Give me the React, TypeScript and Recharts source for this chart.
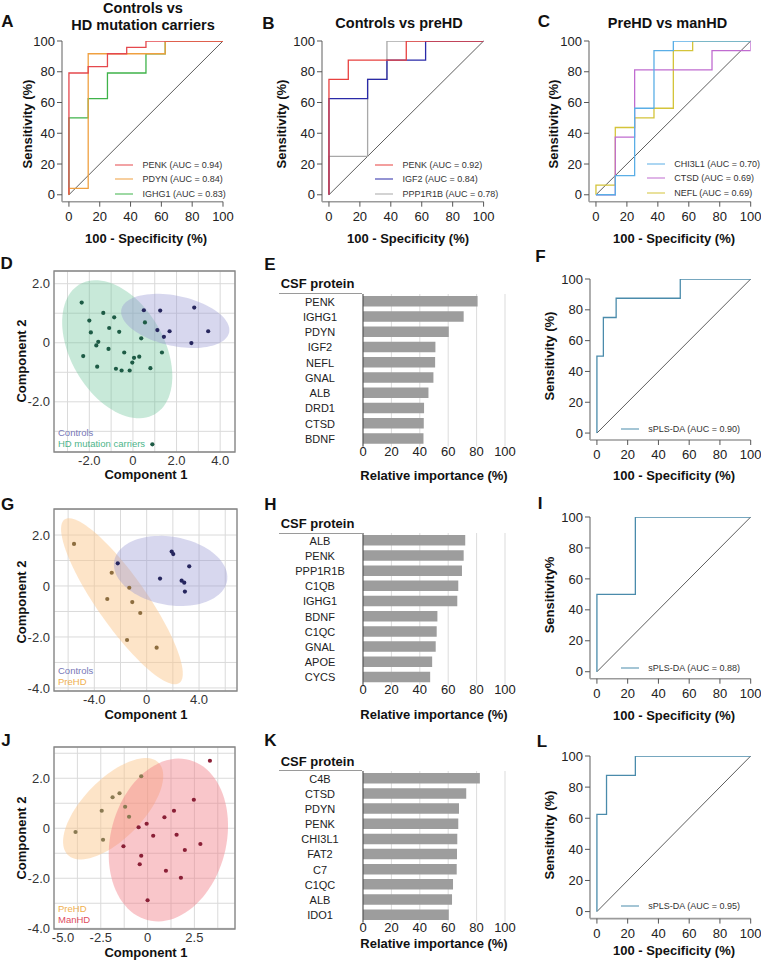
import React from 'react';
import {
  LineChart, Line, XAxis, YAxis, ReferenceLine, ScatterChart, Scatter,
  CartesianGrid, ReferenceArea, BarChart, Bar,
} from 'recharts';

type XY = [number, number];

const FONT = '"Liberation Sans", Arial, Helvetica, sans-serif';
const pctTicks = [0, 20, 40, 60, 80, 100];

// ROC step curves, vertices: [100 - specificity, sensitivity]
const aPENK: XY[] = [[0, 0], [0, 79.2], [12.5, 79.2], [12.5, 83.3], [25, 83.3], [25, 91.7], [37.5, 91.7], [37.5, 95.8], [50, 95.8], [50, 100], [100, 100]];
const aPDYN: XY[] = [[0, 0], [0, 4.2], [12.5, 4.2], [12.5, 91.7], [62.5, 91.7], [62.5, 100], [100, 100]];
const aIGHG1: XY[] = [[0, 0], [0, 50], [12.5, 50], [12.5, 62.5], [25, 62.5], [25, 79.2], [50, 79.2], [50, 91.7], [62.5, 91.7], [62.5, 100], [100, 100]];

const bPENK: XY[] = [[0, 0], [0, 75], [12.5, 75], [12.5, 87.5], [50, 87.5], [50, 100], [100, 100]];
const bIGF2: XY[] = [[0, 0], [0, 62.5], [25, 62.5], [25, 75], [37.5, 75], [37.5, 87.5], [62.5, 87.5], [62.5, 100], [100, 100]];
const bPPP1R1B: XY[] = [[0, 0], [0, 25], [25, 25], [25, 75], [37.5, 75], [37.5, 100], [100, 100]];

const cCHI3L1: XY[] = [[0, 0], [12.5, 0], [12.5, 12.5], [25, 12.5], [25, 56.25], [37.5, 56.25], [37.5, 93.75], [50, 93.75], [50, 100], [100, 100]];
const cCTSD: XY[] = [[0, 0], [12.5, 0], [12.5, 37.5], [25, 37.5], [25, 81.25], [75, 81.25], [75, 93.75], [100, 93.75], [100, 100]];
const cNEFL: XY[] = [[0, 0], [0, 6.25], [12.5, 6.25], [12.5, 43.75], [25, 43.75], [25, 50], [37.5, 50], [37.5, 56.25], [50, 56.25], [50, 93.75], [62.5, 93.75], [62.5, 100], [100, 100]];

const fSPLS: XY[] = [[0, 0], [0, 50], [4.2, 50], [4.2, 75], [12.5, 75], [12.5, 87.5], [54.2, 87.5], [54.2, 100], [100, 100]];
const iSPLS: XY[] = [[0, 0], [0, 50], [25, 50], [25, 100], [100, 100]];
const lSPLS: XY[] = [[0, 0], [0, 62.5], [6.25, 62.5], [6.25, 87.5], [25, 87.5], [25, 100], [100, 100]];

// sPLS-DA score plots: [component 1, component 2]
const dControls: XY[] = [[0.5, 1.1], [1.25, 1.09], [2.81, 1.19], [1.12, 0.43], [1.68, 0.39], [1.42, 0.2], [2.68, -0.01], [3.45, 0.39]];
const dCarriers: XY[] = [[-2.35, 1.36], [-2.0, 0.75], [-1.36, 1.01], [-0.86, 0.86], [-1.93, 0.35], [-1.09, 0.5], [-0.63, 0.37], [-1.59, 0.03], [-1.68, -0.09], [0.55, 0.69], [0.38, 0.15], [1.33, -0.33], [-1.12, -0.21], [-0.4, -0.33], [0.05, -0.51], [0.29, -0.47], [-0.03, -0.67], [-2.28, -0.45], [-1.64, -0.81], [-0.78, -0.88], [-0.52, -0.94], [-0.15, -0.94], [0.8, -0.86], [0.89, -3.44]];
const gControls: XY[] = [[-2.21, 0.89], [1.91, 1.35], [2.03, 1.25], [3.25, 0.77], [1.02, 0.29], [2.67, 0.21], [2.87, 0.13], [2.92, -0.22]];
const gPreHD: XY[] = [[-5.55, 1.65], [-2.67, 0.52], [-1.33, -0.07], [-3.01, -0.51], [-1.1, -0.63], [-0.49, -1.06], [-1.5, -2.12], [0.76, -2.42]];
const jPreHD: XY[] = [[-0.34, 2.08], [-1.5, 1.4], [-1.87, 1.24], [-1.2, 0.86], [-2.45, 0.7], [-0.99, 0.46], [-3.85, -0.15], [-2.38, -0.46]];
const jManHD: XY[] = [[3.33, 2.7], [2.47, 1.14], [1.41, 0.7], [0.9, 0.44], [-0.05, 0.18], [-0.48, 0.04], [0.3, -0.3], [1.55, -0.26], [-1.29, -0.72], [1.99, -0.87], [2.82, -0.63], [-0.34, -1.1], [-0.42, -1.44], [0.98, -1.7], [1.78, -1.98], [0, -2.88]];

// confidence ellipses: centre + two semi-axis vectors (data units)
type Ell = { c: XY; u: XY; v: XY };
const dEllCarriers: Ell = { c: [-0.72, -0.22], u: [1.72, -2.2], v: [-1.85, -0.79] };
const dEllControls: Ell = { c: [1.94, 0.74], u: [2.47, -0.39], v: [-0.24, -0.83] };
const gEllControls: Ell = { c: [1.83, 0.59], u: [4.31, -0.39], v: [-0.45, -1.32] };
const gEllPreHD: Ell = { c: [-1.89, -0.6], u: [4.38, -3.21], v: [-1.56, -0.56] };
const jEllPreHD: Ell = { c: [-1.84, 0.78], u: [2.43, 1.84], v: [1.12, -0.85] };
const jEllManHD: Ell = { c: [1.11, -0.47], u: [1.13, 3.2], v: [2.98, -0.6] };

// variable importance
const eNames = ['PENK', 'IGHG1', 'PDYN', 'IGF2', 'NEFL', 'GNAL', 'ALB', 'DRD1', 'CTSD', 'BDNF'];
const eValues = [80.7, 70.9, 60.4, 51.0, 50.8, 49.6, 46.1, 43.0, 42.8, 42.6];
const hNames = ['ALB', 'PENK', 'PPP1R1B', 'C1QB', 'IGHG1', 'BDNF', 'C1QC', 'GNAL', 'APOE', 'CYCS'];
const hValues = [72.0, 70.9, 69.7, 67.1, 66.4, 52.4, 51.9, 51.2, 48.7, 47.3];
const kNames = ['C4B', 'CTSD', 'PDYN', 'PENK', 'CHI3L1', 'FAT2', 'C7', 'C1QC', 'ALB', 'IDO1'];
const kValues = [82.3, 72.7, 67.6, 67.1, 66.4, 66.2, 66.0, 63.4, 62.7, 60.4];
const impTicks = [0, 20, 40, 60, 80, 100];

const toPts = (a: XY[]) => a.map(([x, y]) => ({ x, y }));

function ellipsePts(e: Ell) {
  const out: { x: number; y: number }[] = [];
  for (let i = 0; i < 96; i++) {
    const t = (i / 96) * Math.PI * 2;
    out.push({
      x: e.c[0] + e.u[0] * Math.cos(t) + e.v[0] * Math.sin(t),
      y: e.c[1] + e.u[1] * Math.cos(t) + e.v[1] * Math.sin(t),
    });
  }
  return out;
}

function Txt({ x, y, text, size = 13, bold = true, rot = false, color = '#111', left = false }: any) {
  return (
    <div
      style={{
        position: 'absolute', left: x, top: y, fontSize: size, fontWeight: bold ? 700 : 400,
        color, lineHeight: 1, whiteSpace: 'nowrap',
        transform: `translate(${left ? '0' : '-50%'}, -50%)${rot ? ' rotate(-90deg)' : ''}`,
      }}
    >
      {text}
    </div>
  );
}

type RocSeries = { name: string; color: string; pts: XY[] };

function Roc({ box, series, legendX, legendRows }: { box: number[]; series: RocSeries[]; legendX: number; legendRows: number[] }) {
  const [x0, y0, x1, y1] = box;
  const L = 40, R = 14, T = 8, B = 30;
  // legend rows are listed top-down, lines are drawn bottom series first
  const drawOrder = [...series].reverse();
  return (
    <>
      <div style={{ position: 'absolute', left: x0 - L, top: y0 - T }}>
        <LineChart width={x1 - x0 + L + R} height={y1 - y0 + T + B} margin={{ top: T, right: R, bottom: 0, left: 0 }}>
          <XAxis
            type="number" dataKey="x" domain={[-4.5, 100]} allowDataOverflow ticks={pctTicks} interval={0}
            height={B} tickSize={5} tickMargin={5}
            axisLine={{ stroke: '#9b9b9b', strokeWidth: 1.6 }} tickLine={{ stroke: '#555' }}
            tick={{ fill: '#222', fontSize: 13 }}
          />
          <YAxis
            type="number" dataKey="y" domain={[-4.5, 100]} allowDataOverflow ticks={pctTicks} interval={0}
            width={L} tickSize={5} tickMargin={2}
            axisLine={{ stroke: '#9b9b9b', strokeWidth: 1.6 }} tickLine={{ stroke: '#555' }}
            tick={{ fill: '#222', fontSize: 13 }}
          />
          <ReferenceLine segment={[{ x: 0, y: 0 }, { x: 100, y: 100 }]} stroke="#333" strokeWidth={0.8} />
          {drawOrder.map((s) => (
            <Line
              key={s.name} data={toPts(s.pts)} dataKey="y" type="linear" stroke={s.color}
              strokeWidth={1.3} dot={false} activeDot={false} isAnimationActive={false}
            />
          ))}
        </LineChart>
      </div>
      {series.map((s, i) => (
        <div
          key={s.name}
          style={{
            position: 'absolute', left: legendX, top: legendRows[i], transform: 'translateY(-50%)',
            display: 'flex', alignItems: 'center', fontSize: 9, color: '#333', lineHeight: 1, whiteSpace: 'nowrap',
          }}
        >
          <span style={{ display: 'inline-block', width: 18, height: 0, borderTop: `1.5px solid ${s.color}`, marginRight: 9.5 }} />
          {s.name}
        </div>
      ))}
    </>
  );
}

const fmt = (v: number) => (v === 0 ? '0' : v.toFixed(1));

type Group = { pts: XY[]; color: string };
type Hull = { e: Ell; fill: string };

function Pca({ box, xDomain, yDomain, xTicks, yTicks, xLab, yLab, hulls, groups }: {
  box: number[]; xDomain: number[]; yDomain: number[]; xTicks: number[]; yTicks: number[];
  xLab: number[]; yLab: number[]; hulls: Hull[]; groups: Group[];
}) {
  const [x0, y0, x1, y1] = box;
  const L = 40, R = 8, T = 6, B = 22;
  return (
    <div style={{ position: 'absolute', left: x0 - L, top: y0 - T }}>
      <ScatterChart width={x1 - x0 + L + R} height={y1 - y0 + T + B} margin={{ top: T, right: R, bottom: 0, left: 0 }}>
        <CartesianGrid stroke="#dadada" strokeWidth={1} />
        <XAxis
          type="number" dataKey="x" domain={xDomain} allowDataOverflow ticks={xTicks} interval={0}
          height={B} tickSize={0} tickMargin={4} axisLine={false} tickLine={false}
          tick={(p: any) => {
            const v = p.payload.value;
            // the label sitting on the left frame edge is nudged inside, as in the original
            const shift = v === xDomain[0] ? 9 : 0;
            return (
              <text x={p.x + shift} y={p.y} dy="0.71em" textAnchor="middle" fill="#333" fontSize={13}>
                {xLab.includes(v) ? fmt(v) : ''}
              </text>
            );
          }}
        />
        <YAxis
          type="number" dataKey="y" domain={yDomain} allowDataOverflow ticks={yTicks} interval={0}
          width={L} tickSize={0} tickMargin={4} axisLine={false} tickLine={false}
          tickFormatter={(v: number) => (yLab.includes(v) ? fmt(v) : '')}
          tick={{ fill: '#333', fontSize: 13 }}
        />
        {hulls.map((h, i) => (
          <Scatter
            key={'h' + i} data={ellipsePts(h.e)} fill={h.fill}
            line={{ fill: h.fill, stroke: 'none' }} lineJointType="linearClosed"
            shape={() => <g />} isAnimationActive={false}
          />
        ))}
        {groups.map((g, i) => (
          <Scatter
            key={'g' + i} data={toPts(g.pts)} fill={g.color}
            shape={(p: any) => <circle cx={p.cx} cy={p.cy} r={2.1} fill={g.color} />}
            isAnimationActive={false}
          />
        ))}
        <ReferenceArea
          x1={xDomain[0]} x2={xDomain[1]} y1={yDomain[0]} y2={yDomain[1]}
          fill="none" stroke="#858585" strokeWidth={1.3} ifOverflow="visible"
        />
      </ScatterChart>
    </div>
  );
}

function Importance({ left, top, bottom, names, values }: { left: number; top: number; bottom: number; names: string[]; values: number[] }) {
  const data = names.map((n, i) => ({ name: n, value: values[i] }));
  const L = 100, R = 16, T = 4, B = 20;
  const plotW = 142;
  return (
    <div style={{ position: 'absolute', left: left - L, top: top - T }}>
      <BarChart
        layout="vertical" data={data} width={plotW + L + R} height={bottom - top + T + B}
        margin={{ top: T, right: R, bottom: 0, left: 0 }}
      >
        <CartesianGrid horizontal={false} stroke="#dcdcdc" />
        <XAxis
          type="number" domain={[0, 100]} ticks={impTicks} interval={0} height={B}
          axisLine={false} tickLine={false} tickSize={0} tickMargin={0}
          tick={{ fill: '#222', fontSize: 13 }}
        />
        <YAxis
          type="category" dataKey="name" width={L} interval={0} tickSize={0} tickMargin={0}
          axisLine={{ stroke: '#444' }} tickLine={false}
          tick={(p: any) => (
            <text x={p.x - 43} y={p.y} textAnchor="middle" dominantBaseline="central" fontSize={11} fill="#222">
              {p.payload.value}
            </text>
          )}
        />
        <Bar dataKey="value" fill="#9d9d9d" barSize={10.5} isAnimationActive={false} />
      </BarChart>
    </div>
  );
}

function CsfHeader({ y }: { y: number }) {
  return (
    <>
      <Txt x={280.7} y={y} text="CSF protein" left />
      <div style={{ position: 'absolute', left: 279.3, top: y + 9.5, width: 82.4, height: 0, borderTop: '1.4px solid #9a9a9a' }} />
    </>
  );
}

const purpleFill = 'rgba(150, 150, 210, 0.38)';
const greenFill = 'rgba(102, 194, 150, 0.36)';
const orangeFill = 'rgba(250, 198, 140, 0.48)';
const redFill = 'rgba(240, 118, 128, 0.42)';

export default function App() {
  return (
    <div
      style={{
        position: 'absolute', left: 0, top: 0, width: 761, height: 960, background: '#fff',
        fontFamily: FONT, color: '#111', overflow: 'hidden',
      }}
    >
      {/* row 1: single-protein ROC curves */}
      <Txt x={7.5} y={21} text="A" size={17} />
      <Txt x={143} y={7.8} text="Controls vs" size={14.5} />
      <Txt x={143} y={25.3} text="HD mutation carriers" size={14.5} />
      <Txt x={27} y={124} text="Sensitivity (%)" rot />
      <Roc
        box={[62, 41.3, 223, 202]} legendX={115} legendRows={[164.5, 179, 193.5]}
        series={[
          { name: 'PENK (AUC = 0.94)', color: '#e5484d', pts: aPENK },
          { name: 'PDYN (AUC = 0.84)', color: '#f0a040', pts: aPDYN },
          { name: 'IGHG1 (AUC = 0.83)', color: '#3fb34a', pts: aIGHG1 },
        ]}
      />
      <Txt x={146} y={238} text="100 - Specificity (%)" />

      <Txt x={268.3} y={22.8} text="B" size={17} />
      <Txt x={399} y={23.3} text="Controls vs preHD" size={14.5} />
      <Txt x={281} y={124} text="Sensitivity (%)" rot />
      <Roc
        box={[321.7, 41.3, 483.3, 202]} legendX={375} legendRows={[164.5, 179, 193.5]}
        series={[
          { name: 'PENK (AUC = 0.92)', color: '#e8413f', pts: bPENK },
          { name: 'IGF2 (AUC = 0.84)', color: '#2a2aa8', pts: bIGF2 },
          { name: 'PPP1R1B (AUC = 0.78)', color: '#a8a8a8', pts: bPPP1R1B },
        ]}
      />
      <Txt x={408} y={238} text="100 - Specificity (%)" />

      <Txt x={544} y={20.8} text="C" size={17} />
      <Txt x={667.5} y={23.3} text="PreHD vs manHD" size={14.5} />
      <Txt x={553} y={124} text="Sensitivity (%)" rot />
      <Roc
        box={[589, 41.3, 750.7, 202]} legendX={646.7} legendRows={[164.3, 178.3, 192.7]}
        series={[
          { name: 'CHI3L1 (AUC = 0.70)', color: '#5aaee6', pts: cCHI3L1 },
          { name: 'CTSD (AUC = 0.69)', color: '#c06cd0', pts: cCTSD },
          { name: 'NEFL (AUC = 0.69)', color: '#d4c43a', pts: cNEFL },
        ]}
      />
      <Txt x={674} y={238} text="100 - Specificity (%)" />

      {/* row 2: controls vs HD mutation carriers */}
      <Txt x={6.7} y={263} text="D" size={17} />
      <Txt x={20.5} y={361} text="Component 2" rot />
      <Pca
        box={[54, 271, 235, 452]} xDomain={[-3.62, 4.68]} yDomain={[-3.7, 2.43]}
        xTicks={[-3, -2, -1, 0, 1, 2, 3, 4]} yTicks={[-3, -2, -1, 0, 1, 2]}
        xLab={[-2, 0, 2, 4]} yLab={[-2, 0, 2]}
        hulls={[{ e: dEllCarriers, fill: greenFill }, { e: dEllControls, fill: purpleFill }]}
        groups={[{ pts: dCarriers, color: '#1d5b45' }, { pts: dControls, color: '#26265e' }]}
      />
      <Txt x={58} y={432.7} text="Controls" size={9.5} bold={false} color="#7878b8" left />
      <Txt x={58} y={444.3} text="HD mutation carriers" size={9.5} bold={false} color="#4db58a" left />
      <Txt x={146} y={474} text="Component 1" />

      <Txt x={270} y={263.7} text="E" size={17} />
      <CsfHeader y={283.3} />
      <Importance left={362.7} top={294} bottom={446.6} names={eNames} values={eValues} />
      <Txt x={434} y={475} text="Relative importance (%)" />

      <Txt x={540.5} y={256} text="F" size={17} />
      <Txt x={549} y={356} text="Sensitivity (%)" rot />
      <Roc
        box={[590, 279, 750.7, 440]} legendX={620.7} legendRows={[429]}
        series={[{ name: 'sPLS-DA (AUC = 0.90)', color: '#4a8bab', pts: fSPLS }]}
      />
      <Txt x={674} y={475} text="100 - Specificity (%)" />

      {/* row 3: controls vs preHD */}
      <Txt x={7.5} y={503.5} text="G" size={17} />
      <Txt x={20.5} y={602} text="Component 2" rot />
      <Pca
        box={[54, 509, 237, 691]} xDomain={[-7.08, 6.9]} yDomain={[-4.12, 3.02]}
        xTicks={[-6, -4, -2, 0, 2, 4, 6]} yTicks={[-4, -3, -2, -1, 0, 1, 2, 3]}
        xLab={[-4, 0, 4]} yLab={[-4, -2, 0, 2]}
        hulls={[{ e: gEllPreHD, fill: orangeFill }, { e: gEllControls, fill: purpleFill }]}
        groups={[{ pts: gPreHD, color: '#8d6d3f' }, { pts: gControls, color: '#26265e' }]}
      />
      <Txt x={58} y={671} text="Controls" size={9.5} bold={false} color="#7878b8" left />
      <Txt x={58} y={681.7} text="PreHD" size={9.5} bold={false} color="#f0b050" left />
      <Txt x={146} y={714} text="Component 1" />

      <Txt x={270.5} y={503.5} text="H" size={17} />
      <CsfHeader y={523} />
      <Importance left={362.7} top={533.4} bottom={685.3} names={hNames} values={hValues} />
      <Txt x={434} y={714} text="Relative importance (%)" />

      <Txt x={540} y={503.3} text="I" size={17} />
      <Txt x={549} y={595} text="Sensitivity%" rot />
      <Roc
        box={[590, 517.3, 750.7, 679]} legendX={620.7} legendRows={[668]}
        series={[{ name: 'sPLS-DA (AUC = 0.88)', color: '#4a8bab', pts: iSPLS }]}
      />
      <Txt x={674} y={715} text="100 - Specificity (%)" />

      {/* row 4: preHD vs manHD */}
      <Txt x={6} y={740} text="J" size={17} />
      <Txt x={20.5} y={838} text="Component 2" rot />
      <Pca
        box={[54, 747, 235, 929]} xDomain={[-5, 4.67]} yDomain={[-4.03, 3.25]}
        xTicks={[-5, -3.75, -2.5, -1.25, 0, 1.25, 2.5, 3.75]} yTicks={[-4, -3, -2, -1, 0, 1, 2, 3]}
        xLab={[-5, -2.5, 0, 2.5]} yLab={[-4, -2, 0, 2]}
        hulls={[{ e: jEllPreHD, fill: orangeFill }, { e: jEllManHD, fill: redFill }]}
        groups={[{ pts: jPreHD, color: '#8a7a52' }, { pts: jManHD, color: '#8a1f36' }]}
      />
      <Txt x={58} y={909.3} text="PreHD" size={9.5} bold={false} color="#f0b050" left />
      <Txt x={58} y={920} text="ManHD" size={9.5} bold={false} color="#e04d60" left />
      <Txt x={146} y={951.5} text="Component 1" />

      <Txt x={270.5} y={740} text="K" size={17} />
      <CsfHeader y={760.8} />
      <Importance left={362.7} top={770.7} bottom={922.3} names={kNames} values={kValues} />
      <Txt x={434} y={943.3} text="Relative importance (%)" />

      <Txt x={542} y={741} text="L" size={17} />
      <Txt x={549} y={835} text="Sensitivity (%)" rot />
      <Roc
        box={[590, 755.7, 750.7, 918.3]} legendX={620.7} legendRows={[905.7]}
        series={[{ name: 'sPLS-DA (AUC = 0.95)', color: '#4a8bab', pts: lSPLS }]}
      />
      <Txt x={674} y={950} text="100 - Specificity (%)" />
    </div>
  );
}
